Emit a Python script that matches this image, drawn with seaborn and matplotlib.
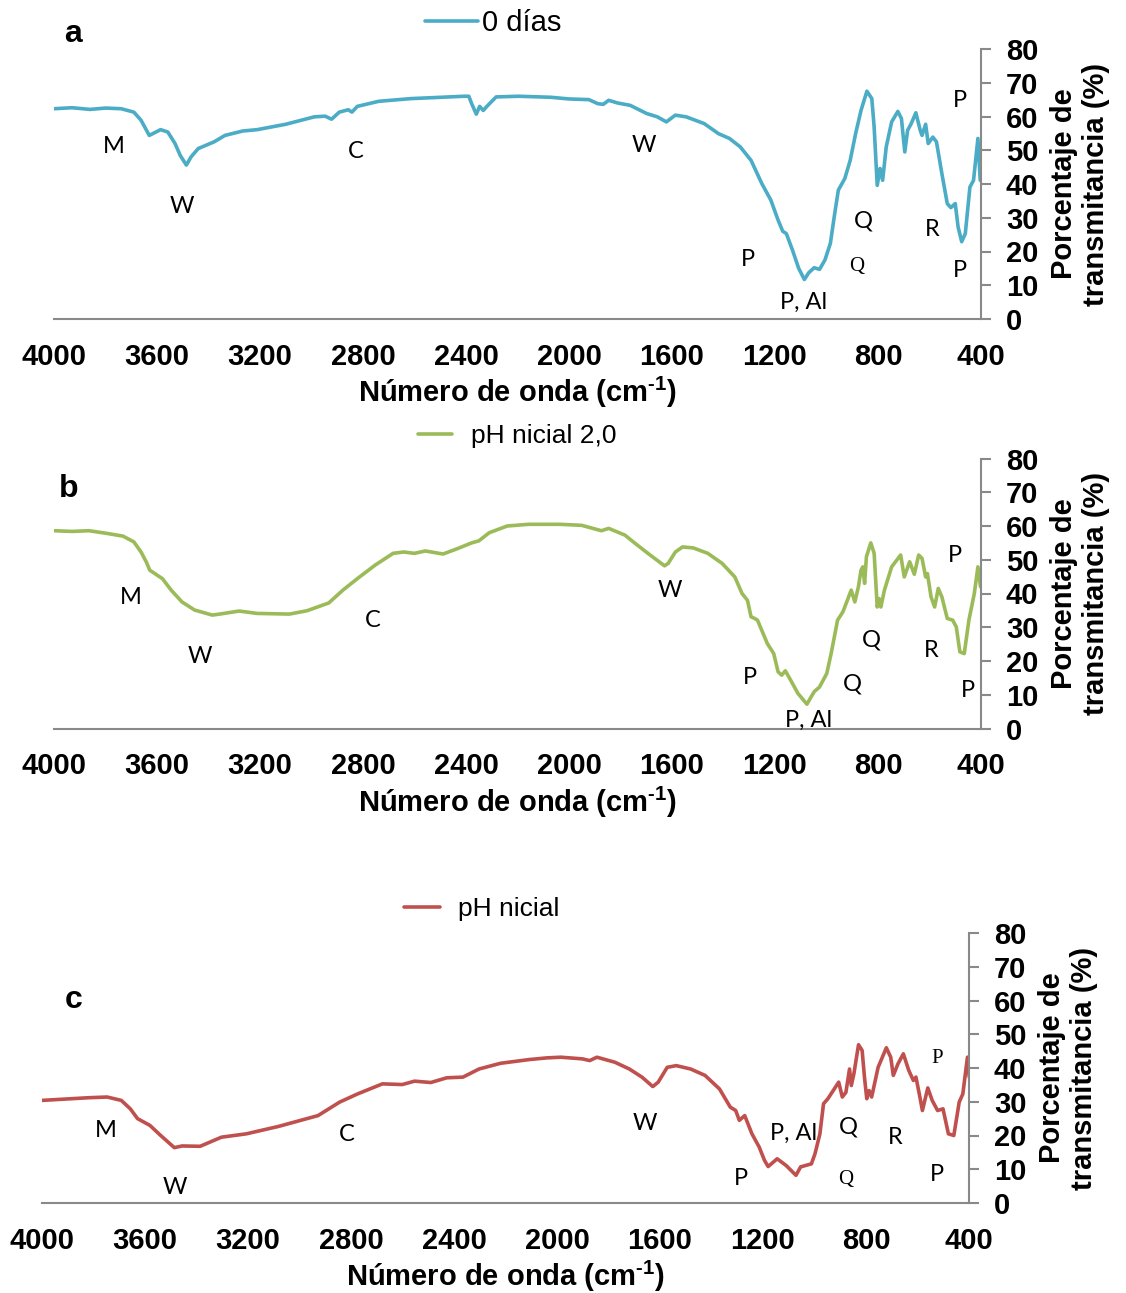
import numpy as np
import pandas as pd
import matplotlib
matplotlib.use("Agg")
import matplotlib.pyplot as plt
import seaborn as sns
from matplotlib.lines import Line2D

sns.set_theme(style="white")
plt.rcParams['font.family'] = ['Liberation Sans', 'DejaVu Sans']
plt.rcParams['mathtext.fontset'] = 'custom'
plt.rcParams['mathtext.rm'] = 'Liberation Sans:bold'
plt.rcParams['mathtext.it'] = 'Liberation Sans:bold'
plt.rcParams['mathtext.bf'] = 'Liberation Sans:bold'
for key in ['text.color', 'axes.labelcolor', 'xtick.color', 'ytick.color']:
    plt.rcParams[key] = 'black'

# ---------------- data ----------------
wn_a = [4000, 3930, 3860, 3800, 3739, 3690, 3662, 3630, 3617, 3586, 3558, 3530, 3510, 3486, 3468,
        3440, 3378, 3336, 3267, 3211, 3100, 2989, 2947, 2922, 2892, 2857, 2843, 2822, 2739, 2614,
        2406, 2389, 2378, 2360, 2347, 2333, 2319, 2283, 2196, 2071, 2000, 1923, 1888, 1867, 1846,
        1811, 1762, 1699, 1657, 1622, 1587, 1545, 1475, 1419, 1377, 1335, 1293, 1251, 1216, 1188,
        1170, 1156, 1132, 1108, 1086, 1069, 1048, 1027, 1006, 985, 968, 954, 929, 908, 887, 866,
        843, 824, 815, 803, 792, 782, 768, 747, 723, 709, 696, 685, 671, 653, 636, 629, 615, 605,
        587, 573, 552, 531, 517, 500, 489, 475, 461, 443, 429, 412, 403]
tr_a = [62.3, 62.6, 62.1, 62.5, 62.3, 61.3, 58.9, 54.4, 54.9, 56.1, 55.4, 52.0, 48.5, 45.6, 48.0,
        50.5, 52.5, 54.4, 55.7, 56.1, 57.7, 59.9, 60.1, 59.2, 61.3, 62.0, 61.3, 63.0, 64.5, 65.3,
        66.0, 66.0, 63.8, 60.7, 63.0, 61.8, 63.0, 65.8, 66.0, 65.7, 65.2, 65.0, 63.8, 63.6, 64.8,
        64.0, 63.3, 60.9, 59.9, 58.4, 60.4, 59.9, 57.9, 54.9, 53.5, 51.0, 47.0, 40.1, 35.2, 29.3,
        26.0, 25.3, 20.4, 15.0, 11.7, 13.7, 15.2, 14.7, 17.5, 22.4, 31.3, 38.2, 41.6, 47.0, 54.9, 61.8,
        67.5, 65.3, 56.9, 39.6, 44.6, 41.1, 51.0, 58.4, 61.5, 59.4, 49.5, 55.9, 57.9, 61.1, 55.9, 54.4,
        57.7, 52.0, 53.9, 52.5, 43.1, 34.2, 33.0, 34.2, 27.3, 22.9, 25.3, 39.1, 41.1, 53.5, 41.1]

wn_b = [4000, 3930, 3864, 3794, 3732, 3690, 3662, 3642, 3628, 3579, 3545, 3503, 3454, 3385, 3357,
        3281, 3211, 3086, 3017, 2933, 2878, 2822, 2753, 2683, 2642, 2600, 2558, 2489, 2433, 2378,
        2350, 2310, 2240, 2157, 2035, 1951, 1874, 1846, 1783, 1734, 1685, 1629, 1615, 1587, 1559,
        1517, 1461, 1405, 1356, 1328, 1307, 1293, 1279, 1268, 1230, 1205, 1188, 1174, 1160, 1139,
        1111, 1076, 1048, 1027, 999, 982, 957, 936, 904, 890, 876, 866, 859, 852, 845, 828, 815,
        803, 796, 789, 775, 747, 712, 698, 677, 659, 642, 629, 615, 608, 594, 580, 566, 552, 531,
        510, 496, 482, 465, 447, 426, 412, 402]
tr_b = [58.6, 58.4, 58.6, 57.8, 57.0, 55.3, 52.3, 49.4, 46.9, 44.4, 41.0, 37.5, 35.1, 33.6, 33.9,
        34.8, 34.1, 33.9, 34.9, 37.2, 41.0, 44.4, 48.4, 51.9, 52.3, 51.9, 52.6, 51.7, 53.3, 55.0,
        55.6, 58.0, 60.0, 60.5, 60.5, 60.2, 58.6, 59.3, 57.3, 54.3, 51.4, 48.2, 48.9, 52.3, 53.8,
        53.5, 51.9, 48.9, 44.9, 40.0, 38.0, 33.1, 32.6, 32.1, 25.2, 22.2, 16.8, 15.8, 17.1, 14.3,
        10.4, 7.2, 10.9, 12.3, 16.3, 22.2, 32.1, 34.6, 41.0, 37.5, 42.0, 46.9, 47.9, 43.0, 50.9, 55.0, 51.9,
        36.0, 38.5, 36.0, 41.0, 47.9, 51.4, 44.9, 49.4, 45.7, 51.4, 50.4, 44.9, 45.9, 39.0, 36.0, 41.5, 39.0, 32.6,
        32.1, 30.1, 22.7, 22.2, 32.1, 40.0, 47.9, 42.0]

wn_c = [4000, 3886, 3817, 3747, 3692, 3657, 3629, 3581, 3539, 3486, 3456, 3386, 3303, 3206, 3081,
        2928, 2844, 2775, 2678, 2601, 2553, 2490, 2428, 2365, 2303, 2219, 2108, 2039, 1985, 1901,
        1873, 1845, 1775, 1719, 1670, 1628, 1607, 1572, 1537, 1481, 1425, 1369, 1327, 1306, 1292,
        1271, 1243, 1215, 1194, 1180, 1145, 1110, 1072, 1054, 1012, 998, 979, 965, 948, 906, 892,
        878, 864, 857, 847, 829, 815, 806, 797, 788, 778, 753, 721, 704, 694, 676, 655, 634, 616,
        606, 592, 581, 560, 543, 522, 501, 480, 459, 438, 424, 406, 399]
tr_c = [30.4, 30.9, 31.2, 31.4, 30.4, 27.9, 25.0, 23.0, 20.0, 16.4, 16.9, 16.8, 19.5, 20.5, 22.7,
        25.9, 29.9, 32.3, 35.3, 35.1, 36.1, 35.7, 37.1, 37.3, 39.7, 41.4, 42.5, 43.0, 43.2, 42.7,
        42.2, 43.2, 41.7, 39.7, 37.3, 34.5, 35.8, 40.2, 40.7, 39.7, 37.8, 33.8, 28.4, 27.4, 24.5,
        25.9, 20.5, 16.6, 12.6, 10.8, 13.1, 11.1, 8.2, 10.7, 11.6, 14.6, 20.5, 29.4, 30.9, 35.8, 31.4,
        32.8, 39.7, 34.8, 38.3, 46.9, 45.2, 37.3, 30.9, 33.3, 31.4, 40.2, 46.0, 43.2, 37.8, 41.2, 44.2, 39.3, 36.3,
        37.3, 31.9, 27.4, 34.1, 30.4, 27.4, 27.9, 20.5, 20.0, 29.9, 32.3, 43.2, 37.3]

series_names = ["0 días", "pH nicial 2,0", "pH nicial"]
panel_letters = ["a", "b", "c"]
colors = ["#4BACC6", "#9BBB59", "#C0504D"]

ann_a_txt = ["M", "W", "C", "W", "P", "P, Al", "Q", "Q", "R", "P", "P"]
ann_a_wn = [3767, 3503, 2827, 1709, 1305, 1091, 858, 881, 590, 482, 482]
ann_a_tr = [51.2, 33.4, 49.7, 51.5, 17.5, 5.0, 29.0, 15.7, 26.6, 64.8, 14.5]
ann_a_serif = [0, 0, 0, 0, 0, 0, 0, 1, 0, 0, 0]

ann_b_txt = ["M", "W", "C", "W", "P", "P, Al", "Q", "Q", "R", "P", "P"]
ann_b_wn = [3701, 3433, 2761, 1608, 1297, 1068, 827, 901, 594, 501, 451]
ann_b_tr = [38.9, 21.2, 32.1, 41.0, 15.2, 2.5, 26.2, 13.2, 23.2, 51.3, 11.4]
ann_b_serif = [0, 0, 0, 0, 0, 0, 0, 0, 0, 0, 0]

ann_c_txt = ["M", "W", "C", "W", "P", "P, Al", "Q", "Q", "R", "P", "P"]
ann_c_wn = [3751, 3483, 2816, 1658, 1285, 1083, 870, 878, 687, 524, 524]
ann_c_tr = [21.6, 4.7, 20.4, 23.7, 7.4, 20.7, 22.5, 7.1, 19.5, 42.9, 8.3]
ann_c_serif = [0, 0, 0, 0, 0, 0, 0, 1, 0, 1, 0]

x_ticks = [4000, 3600, 3200, 2800, 2400, 2000, 1600, 1200, 800, 400]
y_ticks = [0, 10, 20, 30, 40, 50, 60, 70, 80]
xlabel = r"Número de onda (cm$^{\text{-}1}$)"
ylabel = "Porcentaje de\ntransmitancia (%)"

# ---------------- layout ----------------
W, H = 1126, 1293
fig = plt.figure(figsize=(W / 100, H / 100), dpi=100)

def frac_rect(left, right, top, bottom):
    return [left / W, 1 - bottom / H, (right - left) / W, (bottom - top) / H]

rects = [frac_rect(54, 981, 49, 319), frac_rect(54, 981, 458.5, 728.5), frac_rect(42, 969, 933, 1203)]
tick_dirs = ["out", "out", "in"]
legend_anchor = [(425, 23), (418, 436), (404, 909)]
legend_hl = [1.8, 1.3, 1.36]
legend_pad = [0.15, 0.7, 0.7]
legend_fs = [21, 19, 19]
letter_pos = [(64, 42), (59, 497), (65, 1008)]

datasets = [(wn_a, tr_a), (wn_b, tr_b), (wn_c, tr_c)]
anns = [(ann_a_txt, ann_a_wn, ann_a_tr, ann_a_serif),
        (ann_b_txt, ann_b_wn, ann_b_tr, ann_b_serif),
        (ann_c_txt, ann_c_wn, ann_c_tr, ann_c_serif)]

gray = "#898989"
for i in range(3):
    ax = fig.add_axes(rects[i])
    wn, tr = datasets[i]
    df = pd.DataFrame({"wn": wn, "tr": tr})
    sns.lineplot(data=df, x="wn", y="tr", ax=ax, color=colors[i], lw=2.6,
                 sort=False, estimator=None, legend=False)
    for ln in ax.get_lines():
        ln.set_solid_joinstyle("round")
        ln.set_solid_capstyle("round")
    ax.set_xlim(4000, 400)
    ax.set_ylim(0, 80)
    for s in ["top", "left"]:
        ax.spines[s].set_visible(False)
    for s in ["bottom", "right"]:
        ax.spines[s].set_visible(True)
        ax.spines[s].set_color(gray)
        ax.spines[s].set_linewidth(1.5)
    ax.yaxis.tick_right()
    ax.yaxis.set_label_position("right")
    ax.set_xticks(x_ticks)
    ax.set_yticks(y_ticks)
    ax.tick_params(axis="x", direction=tick_dirs[i], length=7, width=1.5, color=gray,
                   labelcolor="black", pad=(17 if tick_dirs[i] == "in" else 10), labelsize=21)
    ax.tick_params(axis="y", direction="out", length=7, width=1.5, color=gray,
                   labelcolor="black", pad=11, labelsize=21, right=True, left=False)
    for lab in ax.get_xticklabels() + ax.get_yticklabels():
        lab.set_fontweight("bold")
    ax.set_xlabel(xlabel, fontsize=21, fontweight="bold", va="center", color="black")
    ax.xaxis.set_label_coords(0.5, -0.272)
    ax.set_ylabel(ylabel, fontsize=21, fontweight="bold", va="center", ha="center",
                  rotation=90, multialignment="center", linespacing=1.2, color="black")
    ax.yaxis.set_label_coords(1.107, 0.5)

    txt, awn, atr, aser = anns[i]
    for t, xw, yv, sf in zip(txt, awn, atr, aser):
        if sf:
            ax.text(xw, yv, t, ha="center", va="center", fontsize=15,
                    family=["Liberation Serif", "DejaVu Serif"], color="black", clip_on=False)
        else:
            ax.text(xw, yv, t, ha="center", va="center", fontsize=17,
                    family=["Lato", "DejaVu Sans"], color="black", clip_on=False)

    handle = Line2D([0], [0], color=colors[i], lw=2.6)
    lx, ly = legend_anchor[i]
    leg = ax.legend([handle], [series_names[i]], loc="center left",
                    bbox_to_anchor=(lx / W, 1 - ly / H), bbox_transform=fig.transFigure,
                    frameon=False, fontsize=legend_fs[i], handlelength=legend_hl[i],
                    handletextpad=legend_pad[i], borderpad=0, borderaxespad=0)
    for t in leg.get_texts():
        t.set_color("black")

    px, py = letter_pos[i]
    fig.text(px / W, 1 - py / H, panel_letters[i], fontsize=23, fontweight="bold",
             ha="left", va="baseline", color="black")

fig.savefig("out.png", dpi=100)
